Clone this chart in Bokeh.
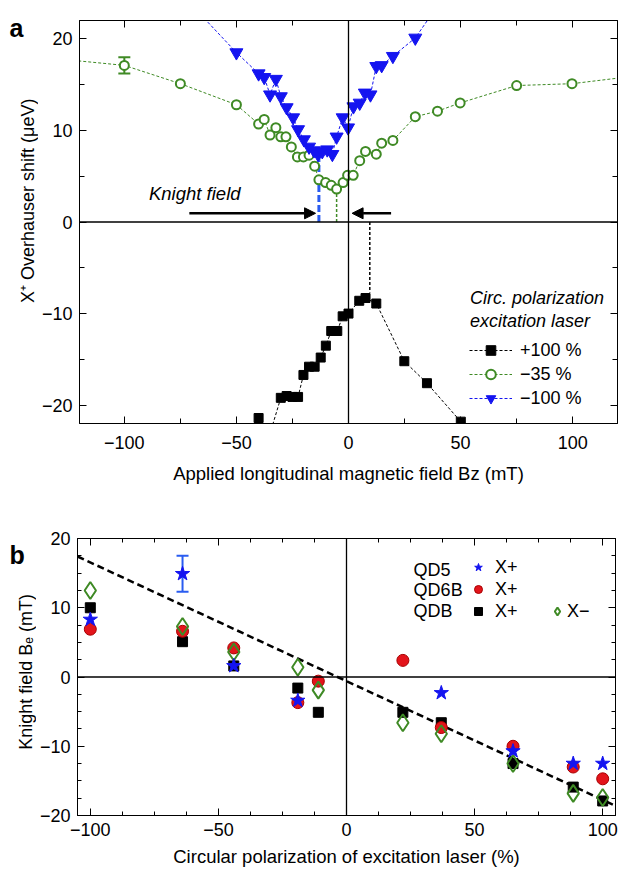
import math
from bokeh.plotting import figure
from bokeh.models import (Range1d, FixedTicker, LinearAxis, Span, Arrow, NormalHead, Label,
                          Legend, LegendItem, Whisker, TeeHead, ColumnDataSource,
                          CustomJSTickFormatter)
from bokeh.core.properties import value
from bokeh.layouts import column, row
from bokeh.embed import file_html
from bokeh.resources import INLINE

FONT = "Liberation Sans"
GREEN = "#3f8a25"
BLUE = "#1414f0"
LBLUE = "#2a5cf0"
RED = "#e3141b"

# ---------------- Panel a data ----------------
pos100_x = [-40.1, -35.5, -30.2, -27.6, -25.0, -22.5, -20.1, -17.6, -15.1, -12.4, -10.1, -7.7,
            -5.0, -2.6, 0.0, 4.8, 7.6, 12.4, 24.9, 35.0, 50.1]
pos100_y = [-21.4, -23.5, -19.2, -19.0, -19.1, -19.1, -16.7, -15.8, -15.8, -14.8, -13.5, -11.9,
            -11.9, -10.3, -10.0, -8.6, -8.3, -8.9, -15.2, -17.6, -21.8]

m35_x = [-125, -100, -75, -50, -40.1, -37.6, -35.0, -32.4, -30.2, -27.9, -25.5, -22.8, -20.1,
         -17.6, -15.1, -13.2, -10.2, -7.7, -5.3, -2.4, -0.4, 2.1, 5.0, 7.6, 12.4, 14.8, 19.8,
         29.8, 39.7, 49.8, 75.0, 99.7, 125]
m35_y = [17.7, 17.1, 15.1, 12.8, 10.7, 11.2, 9.5, 10.3, 9.3, 9.3, 8.2, 7.1, 7.1,
         7.3, 6.1, 4.6, 4.3, 4.0, 3.6, 4.3, 5.1, 5.1, 6.7, 7.7, 7.4, 8.6, 8.9,
         11.5, 12.1, 13.0, 14.9, 15.1, 15.85]
m35_err_x = [-100]
m35_err_y = [17.1]
m35_err = [0.9]

m100_x = [-75, -50, -40.1, -37.6, -35.0, -32.4, -30.2, -27.6, -24.7, -22.5, -19.9, -17.6, -15.4,
          -13.6, -11.7, -9.5, -7.2, -5.3, -2.6, -0.2, 2.2, 5.0, 7.3, 9.8, 12.4, 14.8, 19.8,
          29.8, 40.0]
m100_y = [25.0, 18.5, 16.2, 15.8, 13.9, 15.6, 13.7, 12.5, 11.4, 10.1, 9.0, 8.2, 7.8,
          7.4, 7.7, 7.9, 7.4, 9.3, 11.4, 10.3, 12.6, 13.0, 14.1, 13.9, 17.0, 17.1, 18.1,
          20.1, 23.7]

# Knight-field markers (x position, top of vertical dashed line)
knight_pos100 = (9.5, -7.7)
knight_m35 = (-5.3, 3.6)
knight_m100 = (-13.2, 7.0)

# ---------------- Panel b data ----------------
qd5_x = [-100, -64, -44, -19, 37, 65, 88.5, 100]
qd5_y = [8.3, 14.9, 1.6, -3.4, -2.3, -10.7, -12.5, -12.5]
qd5_err_x = [-64]
qd5_err_y = [14.9]
qd5_err = [2.6]

b_x = [-100, -64, -44, -19, -11, 22, 37, 65, 88.5, 100]
qd6b_y = [6.9, 6.6, 4.2, -3.7, -0.6, 2.4, -7.3, -10.0, -13.0, -14.7]
qdb_xp_y = [10.0, 5.1, 1.6, -1.6, -5.1, -5.1, -6.6, -12.5, -15.9, -17.9]
qdb_xm_y = [12.5, 7.3, 3.6, 1.4, -1.9, -6.6, -8.2, -12.5, -16.8, -17.4]

fit_x = [-105, 105]
fit_y = [17.4, -18.6]

MINUS_FMT = "return tick < 0 ? '\\u2212' + Math.abs(tick) : String(tick);"


def style_axis(ax, ticks, minor, show, maj, mnr, standoff=10):
    ax.ticker = FixedTicker(ticks=ticks, minor_ticks=minor)
    ax.major_tick_in = maj
    ax.major_tick_out = 0
    ax.minor_tick_in = mnr
    ax.minor_tick_out = 0
    ax.axis_line_color = "black"
    ax.major_tick_line_color = "black"
    ax.minor_tick_line_color = "black"
    ax.axis_line_width = 1
    if show:
        ax.formatter = CustomJSTickFormatter(code=MINUS_FMT)
        ax.major_label_text_font = FONT
        ax.major_label_text_font_size = "18px"
        ax.major_label_text_color = "black"
        ax.major_label_standoff = standoff
        ax.axis_label_text_font = FONT
        ax.axis_label_text_font_size = "18.5px"
        ax.axis_label_text_font_style = "normal"
        ax.axis_label_text_color = "black"
    else:
        ax.formatter = CustomJSTickFormatter(code="return '';")
        ax.major_label_standoff = 0
        ax.major_label_text_font_size = "0px"


def text_strip(width, height):
    """A bare figure (no axes) whose frame covers it, holding panel letter and y title."""
    s = figure(width=width, height=height, x_range=Range1d(0, width), y_range=Range1d(0, height),
               x_axis_type=None, y_axis_type=None, output_backend="svg", toolbar_location=None,
               min_border=0, min_border_left=0, min_border_right=0, min_border_top=0,
               min_border_bottom=0)
    s.outline_line_color = None
    return s


# =============== Panel a ===============
HA = 495
pa = figure(width=580, height=HA, x_range=Range1d(-120, 120),
            y_range=Range1d(-22, 22), output_backend="svg", toolbar_location=None,
            min_border_left=40, min_border_right=1, min_border_top=20, min_border_bottom=72)
pa.xgrid.visible = False
pa.ygrid.visible = False
pa.outline_line_color = "black"

ax_xt = [-100, -50, 0, 50, 100]
ax_xm = [-125, -75, -25, 25, 75, 125]
ay_t = [-20, -10, 0, 10, 20]
ay_m = [-15, -5, 5, 15]
pa.add_layout(LinearAxis(), "above")
pa.add_layout(LinearAxis(), "right")
style_axis(pa.below[0], ax_xt, ax_xm, True, 7, 5, standoff=12)
style_axis(pa.left[0], ay_t, ay_m, True, 7, 5, standoff=7)
style_axis(pa.above[0], ax_xt, ax_xm, False, 7, 5)
style_axis(pa.right[0], ay_t, ay_m, False, 7, 5)
pa.below[0].axis_label = "Applied longitudinal magnetic field Bz (mT)"
pa.below[0].axis_label_standoff = 11

pa.add_layout(Span(location=0, dimension="width", line_color="black", line_width=1.3))
pa.add_layout(Span(location=0, dimension="height", line_color="black", line_width=1.3))

# knight-field vertical dashed lines
pa.line([knight_m100[0]] * 2, [0, knight_m100[1]], line_color=LBLUE, line_width=3, line_dash="7 3")
pa.line([knight_m35[0]] * 2, [0, knight_m35[1]], line_color=GREEN, line_width=1.5, line_dash="3 2")
pa.line([knight_pos100[0]] * 2, [0, knight_pos100[1]], line_color="black", line_width=1.5, line_dash="3 2")

l_pos = pa.line(pos100_x, pos100_y, line_color="black", line_width=1, line_dash="3 2")
s_pos = pa.scatter(pos100_x, pos100_y, marker="square", size=9, fill_color="black", line_color="black")

l_m35 = pa.line(m35_x, m35_y, line_color=GREEN, line_width=1, line_dash="3 2")
s_m35 = pa.scatter(m35_x, m35_y, marker="circle", size=9, fill_color="white", line_color=GREEN, line_width=2)

l_m100 = pa.line(m100_x, m100_y, line_color=BLUE, line_width=1, line_dash="3 2")
s_m100 = pa.scatter(m100_x, m100_y, marker="inverted_triangle", size=13, fill_color=BLUE, line_color=BLUE)

err_a = ColumnDataSource(dict(x=m35_err_x,
                              lower=[y - e for y, e in zip(m35_err_y, m35_err)],
                              upper=[y + e for y, e in zip(m35_err_y, m35_err)]))
pa.add_layout(Whisker(base="x", lower="lower", upper="upper", source=err_a,
                      line_color=GREEN, line_width=2,
                      upper_head=TeeHead(size=12, line_color=GREEN, line_width=2),
                      lower_head=TeeHead(size=12, line_color=GREEN, line_width=2)))

pa.add_layout(Arrow(x_start=-71, y_start=0.95, x_end=-14.7, y_end=0.95, line_color="black",
                    line_width=2.5, end=NormalHead(size=11, fill_color="black", line_color="black")))
pa.add_layout(Arrow(x_start=19, y_start=0.95, x_end=1.6, y_end=0.95, line_color="black",
                    line_width=2.5, end=NormalHead(size=11, fill_color="black", line_color="black")))

pa.add_layout(Label(x=-89, y=1.95, text="Knight field", text_font=FONT, text_font_style="italic",
                    text_font_size="18.5px", text_color="black"))
pa.add_layout(Label(x=54.2, y=-9.37, text="Circ. polarization", text_font=FONT,
                    text_font_style="italic", text_font_size="18px", text_color="black"))
pa.add_layout(Label(x=54.2, y=-11.87, text="excitation laser", text_font=FONT,
                    text_font_style="italic", text_font_size="18px", text_color="black"))

leg_a = Legend(items=[LegendItem(label=value("+100 %"), renderers=[l_pos, s_pos]),
                      LegendItem(label=value("\u221235 %"), renderers=[l_m35, s_m35]),
                      LegendItem(label=value("\u2212100 %"), renderers=[l_m100, s_m100])],
               location=(390, 13), padding=0, margin=0, spacing=0,
               glyph_width=43, glyph_height=24, label_height=24, label_standoff=8,
               label_text_font=FONT, label_text_font_size="18px", label_text_color="black",
               border_line_alpha=0, background_fill_alpha=0)
pa.add_layout(leg_a)

sa = text_strip(38, HA)
sa.add_layout(Label(x=9, y=HA - 26, text="a", text_font=FONT, text_font_style="bold",
                    text_font_size="25px", text_color="black"))
sa.add_layout(Label(x=27, y=HA - 221.5, text="X\u207a Overhauser shift (\u03bceV)", angle=math.pi / 2,
                    text_align="center", text_baseline="middle", text_font=FONT,
                    text_font_size="18px", text_color="black"))

# =============== Panel b ===============
HB = 377
pb = figure(width=582, height=HB, x_range=Range1d(-105, 105),
            y_range=Range1d(-20, 20), output_backend="svg", toolbar_location=None,
            min_border_left=40, min_border_right=3, min_border_top=43, min_border_bottom=57)
pb.xgrid.visible = False
pb.ygrid.visible = False
pb.outline_line_color = "black"

bx_t = [-100, -50, 0, 50, 100]
bx_m = [v * 12.5 for v in range(-8, 9) if v % 4 != 0]
by_t = [-20, -10, 0, 10, 20]
by_m = [v * 2.5 for v in range(-8, 9) if v % 4 != 0]
pb.add_layout(LinearAxis(), "above")
pb.add_layout(LinearAxis(), "right")
style_axis(pb.below[0], bx_t, bx_m, True, 7, 4, standoff=7)
style_axis(pb.left[0], by_t, by_m, True, 7, 4, standoff=7)
style_axis(pb.above[0], bx_t, bx_m, False, 7, 4)
style_axis(pb.right[0], by_t, by_m, False, 7, 4)
pb.below[0].axis_label = "Circular polarization of excitation laser (%)"
pb.below[0].axis_label_standoff = 7

pb.add_layout(Span(location=0, dimension="width", line_color="black", line_width=1.3))
pb.add_layout(Span(location=0, dimension="height", line_color="black", line_width=1.3))

pb.line(fit_x, fit_y, line_color="black", line_width=2.5, line_dash="7 4")

r_sq = pb.scatter(b_x, qdb_xp_y, marker="square", size=10, fill_color="black", line_color="black")
r_ci = pb.scatter(b_x, qd6b_y, marker="circle", size=12, fill_color=RED, line_color="#a80000")
r_di = pb.scatter(b_x, qdb_xm_y, marker="diamond", size=17, fill_color="white",
                  fill_alpha=0, line_color=GREEN, line_width=2)
r_st = pb.scatter(qd5_x, qd5_y, marker="star", size=15, fill_color=BLUE, line_color=BLUE)

err_b = ColumnDataSource(dict(x=qd5_err_x,
                              lower=[y - e for y, e in zip(qd5_err_y, qd5_err)],
                              upper=[y + e for y, e in zip(qd5_err_y, qd5_err)]))
pb.add_layout(Whisker(base="x", lower="lower", upper="upper", source=err_b,
                      line_color=LBLUE, line_width=2,
                      upper_head=TeeHead(size=12, line_color=LBLUE, line_width=2),
                      lower_head=TeeHead(size=12, line_color=LBLUE, line_width=2)))

for txt, yy in [("QD5", 15.5), ("QD6B", 12.6), ("QDB", 9.5)]:
    pb.add_layout(Label(x=26.2, y=yy, text=txt, text_font=FONT, text_font_size="18px",
                        text_baseline="middle", text_color="black"))

leg_b1 = Legend(items=[LegendItem(label=value("X+"), renderers=[r_st]),
                       LegendItem(label=value("X+"), renderers=[r_ci]),
                       LegendItem(label=value("X+"), renderers=[r_sq])],
                location=(391, 193), padding=0, margin=0, spacing=0,
                glyph_width=20, glyph_height=22, label_height=22, label_standoff=7,
                label_text_font=FONT, label_text_font_size="18px", label_text_color="black",
                border_line_alpha=0, background_fill_alpha=0)
leg_b2 = Legend(items=[LegendItem(label=value("X\u2212"), renderers=[r_di])],
                location=(470, 193), padding=0, margin=0, spacing=0,
                glyph_width=20, glyph_height=22, label_height=22, label_standoff=0,
                label_text_font=FONT, label_text_font_size="18px", label_text_color="black",
                border_line_alpha=0, background_fill_alpha=0)
pb.add_layout(leg_b1)
pb.add_layout(leg_b2)

sb = text_strip(36, HB)
sb.add_layout(Label(x=9, y=HB - 42, text="b", text_font=FONT, text_font_style="bold",
                    text_font_size="25px", text_color="black"))
sb.add_layout(Label(x=25, y=HB - 181.5, text="Knight field B\u2091 (mT)", angle=math.pi / 2,
                    text_align="center", text_baseline="middle", text_font=FONT,
                    text_font_size="18px", text_color="black"))

layout = column(row(sa, pa, spacing=0), row(sb, pb, spacing=0), spacing=0)
open("out.html", "w").write(file_html(layout, INLINE))
